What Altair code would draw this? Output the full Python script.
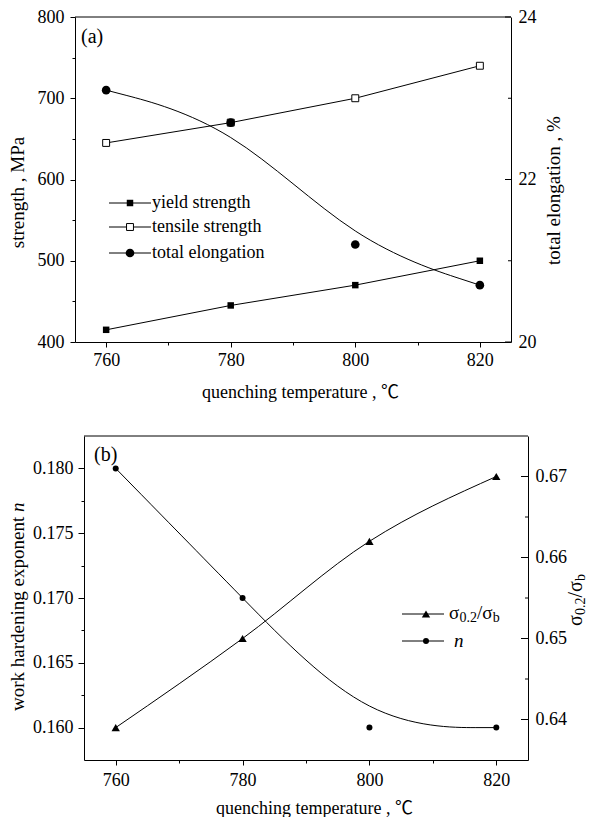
import altair as alt
import pandas as pd

# ---------------- data ----------------
temps = [760, 780, 800, 820]
yield_strength = [415, 445, 470, 500]
tensile_strength = [645, 670, 700, 740]
total_elongation = [23.1, 22.7, 21.2, 20.7]
n_values = [0.180, 0.170, 0.160, 0.160]
sigma_ratio = [0.639, 0.650, 0.662, 0.670]

x_ticks = [760, 770, 780, 790, 800, 810, 820]
strength_ticks = [400, 450, 500, 550, 600, 650, 700, 750, 800]
elong_major = [20, 22, 24]
elong_minor = [21, 23]
n_ticks = [0.160, 0.1625, 0.165, 0.1675, 0.170, 0.1725, 0.175, 0.1775, 0.180]
sigma_major = [0.64, 0.65, 0.66, 0.67]
sigma_minor = [0.645, 0.655, 0.665]

legend_a = ["yield strength", "tensile strength", " total elongation"]

SERIF = "Liberation Serif"
FONT = "Liberation Serif, Noto Sans CJK SC, serif"

WA, HA = 436, 325
WB, HB = 453, 324
XB0 = 9

df_a = pd.DataFrame({"T": temps, "ys": yield_strength, "ts": tensile_strength, "el": total_elongation})
df_b = pd.DataFrame({"T": temps, "n": n_values, "r": sigma_ratio})
one = pd.DataFrame({"k": [0]})

AX = dict(labelFont=SERIF, titleFont=FONT, labelFontSize=18, titleFontSize=19,
          labelColor="black", titleColor="black", titleFontWeight="normal",
          labelFlush=False, labelOverlap=False, grid=False)


def cond_size(test, minor, major):
    return {"condition": {"test": test, "value": minor}, "value": major}


def x_enc(label_pad, title_pad, title_x, rng=None):
    kw = dict(domain=[755, 825], nice=False, zero=False)
    if rng is not None:
        kw["range"] = rng
    return alt.X("T:Q", scale=alt.Scale(**kw),
                 axis=alt.Axis(values=x_ticks,
                               labelExpr="datum.value % 20 == 0 ? datum.label : ''",
                               tickSize=cond_size("datum.value % 20 != 0", 3, 5),
                               labelPadding=label_pad,
                               title="quenching temperature , ℃",
                               titlePadding=title_pad, titleX=title_x, **{**AX, "titleFontSize": 18}))


def y_left_a(f):
    return alt.Y(f"{f}:Q", scale=alt.Scale(domain=[400, 800], nice=False, zero=False),
                 axis=alt.Axis(values=strength_ticks,
                               labelExpr="datum.value % 100 == 0 ? datum.label : ''",
                               tickSize=cond_size("datum.value % 100 != 0", 3, 5),
                               labelPadding=6, title="strength , MPa", titlePadding=10,
                               titleY=175, **AX))


def y_right_a(f):
    return alt.Y(f"{f}:Q", scale=alt.Scale(domain=[20, 24], nice=False, zero=False),
                 axis=alt.Axis(orient="right", values=elong_major, ticks=False,
                               labelPadding=7, title="total elongation , %", titleAngle=270,
                               titleBaseline="top", titlePadding=8, titleY=173, **AX))


def y_left_b(f):
    return alt.Y(f"{f}:Q", scale=alt.Scale(domain=[0.1575, 0.1825], nice=False, zero=False),
                 axis=alt.Axis(values=n_ticks, format=".3f",
                               labelExpr="round(datum.value*1000) % 5 == 0 ? datum.label : ''",
                               tickSize=cond_size("round(datum.value*1000) % 5 != 0", 3, 6),
                               labelPadding=5, offset=-XB0, title=None, **AX))


def y_right_b(f):
    return alt.Y(f"{f}:Q", scale=alt.Scale(domain=[0.635, 0.675], nice=False, zero=False),
                 axis=alt.Axis(orient="right", values=sigma_major, format=".2f", ticks=False,
                               labelPadding=7, title=None, **AX))


def rule(x1, x2, y):
    return alt.Chart(one).mark_rule(color="black", strokeWidth=1).encode(
        x=alt.value(x1), x2=alt.value(x2), y=alt.value(y))


def sym(x, y, **kw):
    return alt.Chart(one).mark_point(opacity=1, **kw).encode(x=alt.value(x), y=alt.value(y))


def txt(s, x, y, size=18, align="left", baseline="middle", angle=0, style="normal"):
    return alt.Chart(one).mark_text(text=s, font=SERIF, fontSize=size, align=align,
                                    baseline=baseline, angle=angle, fontStyle=style,
                                    color="black").encode(x=alt.value(x), y=alt.value(y))


SQ_FILL = dict(shape="square", filled=True, color="black", size=42)
SQ_OPEN = dict(shape="square", filled=True, fill="white", stroke="black", strokeWidth=1, size=48)
CIRC_A = dict(shape="circle", filled=True, color="black", size=75)
CIRC_B = dict(shape="circle", filled=True, color="black", size=36)
TRI = dict(shape="triangle-up", filled=True, color="black", size=70)

# ---------------- panel (a) ----------------
xa = x_enc(4, 14, 225)
base_a = alt.Chart(df_a)
left_a = alt.layer(
    base_a.mark_line(color="black", strokeWidth=1).encode(x=xa, y=y_left_a("ys")),
    base_a.mark_point(opacity=1, **SQ_FILL).encode(x=xa, y=y_left_a("ys")),
    base_a.mark_line(color="black", strokeWidth=1).encode(x=xa, y=y_left_a("ts")),
    base_a.mark_point(opacity=1, **SQ_OPEN).encode(x=xa, y=y_left_a("ts")),
    rule(0, WA, 0),
    rule(34, 76, 186), sym(55, 186, **SQ_FILL), txt(legend_a[0], 77, 186),
    rule(34, 76, 210), sym(55, 210, **SQ_OPEN), txt(legend_a[1], 77, 210),
    rule(34, 76, 236), sym(55, 236, **CIRC_A), txt(legend_a[2], 77, 236),
    txt("(a)", 6, 20, size=20),
)
right_a = alt.layer(
    base_a.mark_line(color="black", strokeWidth=1, interpolate="basis").encode(x=xa, y=y_right_a("el")),
    base_a.mark_point(opacity=1, **CIRC_A).encode(x=xa, y=y_right_a("el")),
    alt.Chart(pd.DataFrame({"v": elong_major})).mark_rule(color="black", strokeWidth=1).encode(
        y=y_right_a("v"), x=alt.value(WA - 6), x2=alt.value(WA)),
    alt.Chart(pd.DataFrame({"v": elong_minor})).mark_rule(color="black", strokeWidth=1).encode(
        y=y_right_a("v"), x=alt.value(WA - 3), x2=alt.value(WA)),
)
chart_a = alt.layer(left_a, right_a).resolve_scale(y="independent").properties(width=WA, height=HA)

# ---------------- panel (b) ----------------
xb = x_enc(6, 10, 239, rng=[XB0, WB])
base_b = alt.Chart(df_b)
sub_shift = 3
lx = 374
left_b = alt.layer(
    base_b.mark_line(color="black", strokeWidth=1, interpolate="basis").encode(x=xb, y=y_left_b("n")),
    base_b.mark_point(opacity=1, **CIRC_B).encode(x=xb, y=y_left_b("n")),
    rule(XB0, WB, 0),
    rule(327, 369, 178), sym(351, 178, **TRI),
    txt("σ", lx, 183, size=19, baseline="alphabetic"),
    txt("0.2", lx + 10.5, 183 + sub_shift, size=14, baseline="alphabetic"),
    txt("/σ", lx + 28, 183, size=19, baseline="alphabetic"),
    txt("b", lx + 43.8, 183 + sub_shift, size=14, baseline="alphabetic"),
    rule(327, 369, 205), sym(351, 205, **CIRC_B),
    txt("n", 379, 205, size=19, style="italic"),
    txt("(b)", 19, 19, size=20),
    # left axis title (rotated)
    txt("work hardening exponent", -51, 275, size=19, baseline="alphabetic", angle=270),
    txt("n", -51, 76, size=19, baseline="alphabetic", angle=270, style="italic"),
    # right axis title (rotated, with subscripts)
    txt("σ", 507, 190, size=20, baseline="alphabetic", angle=270),
    txt("0.2", 507 + sub_shift, 179, size=14, baseline="alphabetic", angle=270),
    txt("/σ", 507, 161.5, size=20, baseline="alphabetic", angle=270),
    txt("b", 507 + sub_shift, 145, size=14, baseline="alphabetic", angle=270),
)
right_b = alt.layer(
    base_b.mark_line(color="black", strokeWidth=1, interpolate="monotone").encode(x=xb, y=y_right_b("r")),
    base_b.mark_point(opacity=1, **TRI).encode(x=xb, y=y_right_b("r")),
    alt.Chart(pd.DataFrame({"v": sigma_major})).mark_rule(color="black", strokeWidth=1).encode(
        y=y_right_b("v"), x=alt.value(WB - 7), x2=alt.value(WB)),
    alt.Chart(pd.DataFrame({"v": sigma_minor})).mark_rule(color="black", strokeWidth=1).encode(
        y=y_right_b("v"), x=alt.value(WB - 3), x2=alt.value(WB)),
)
chart_b = alt.layer(left_b, right_b).resolve_scale(y="independent").properties(width=WB, height=HB)

chart = alt.vconcat(chart_a, chart_b, spacing=34).properties(padding=0).configure(
    font=SERIF
).configure_view(
    strokeWidth=0
).configure_axis(
    labelFont=SERIF, titleFont=FONT, labelFontSize=18, titleFontSize=19,
    titleFontWeight="normal", labelColor="black", titleColor="black",
    tickColor="black", domainColor="black", tickWidth=1, domainWidth=1, grid=False,
)

chart.save("out.html", embed_options={"renderer": "svg", "actions": False})
